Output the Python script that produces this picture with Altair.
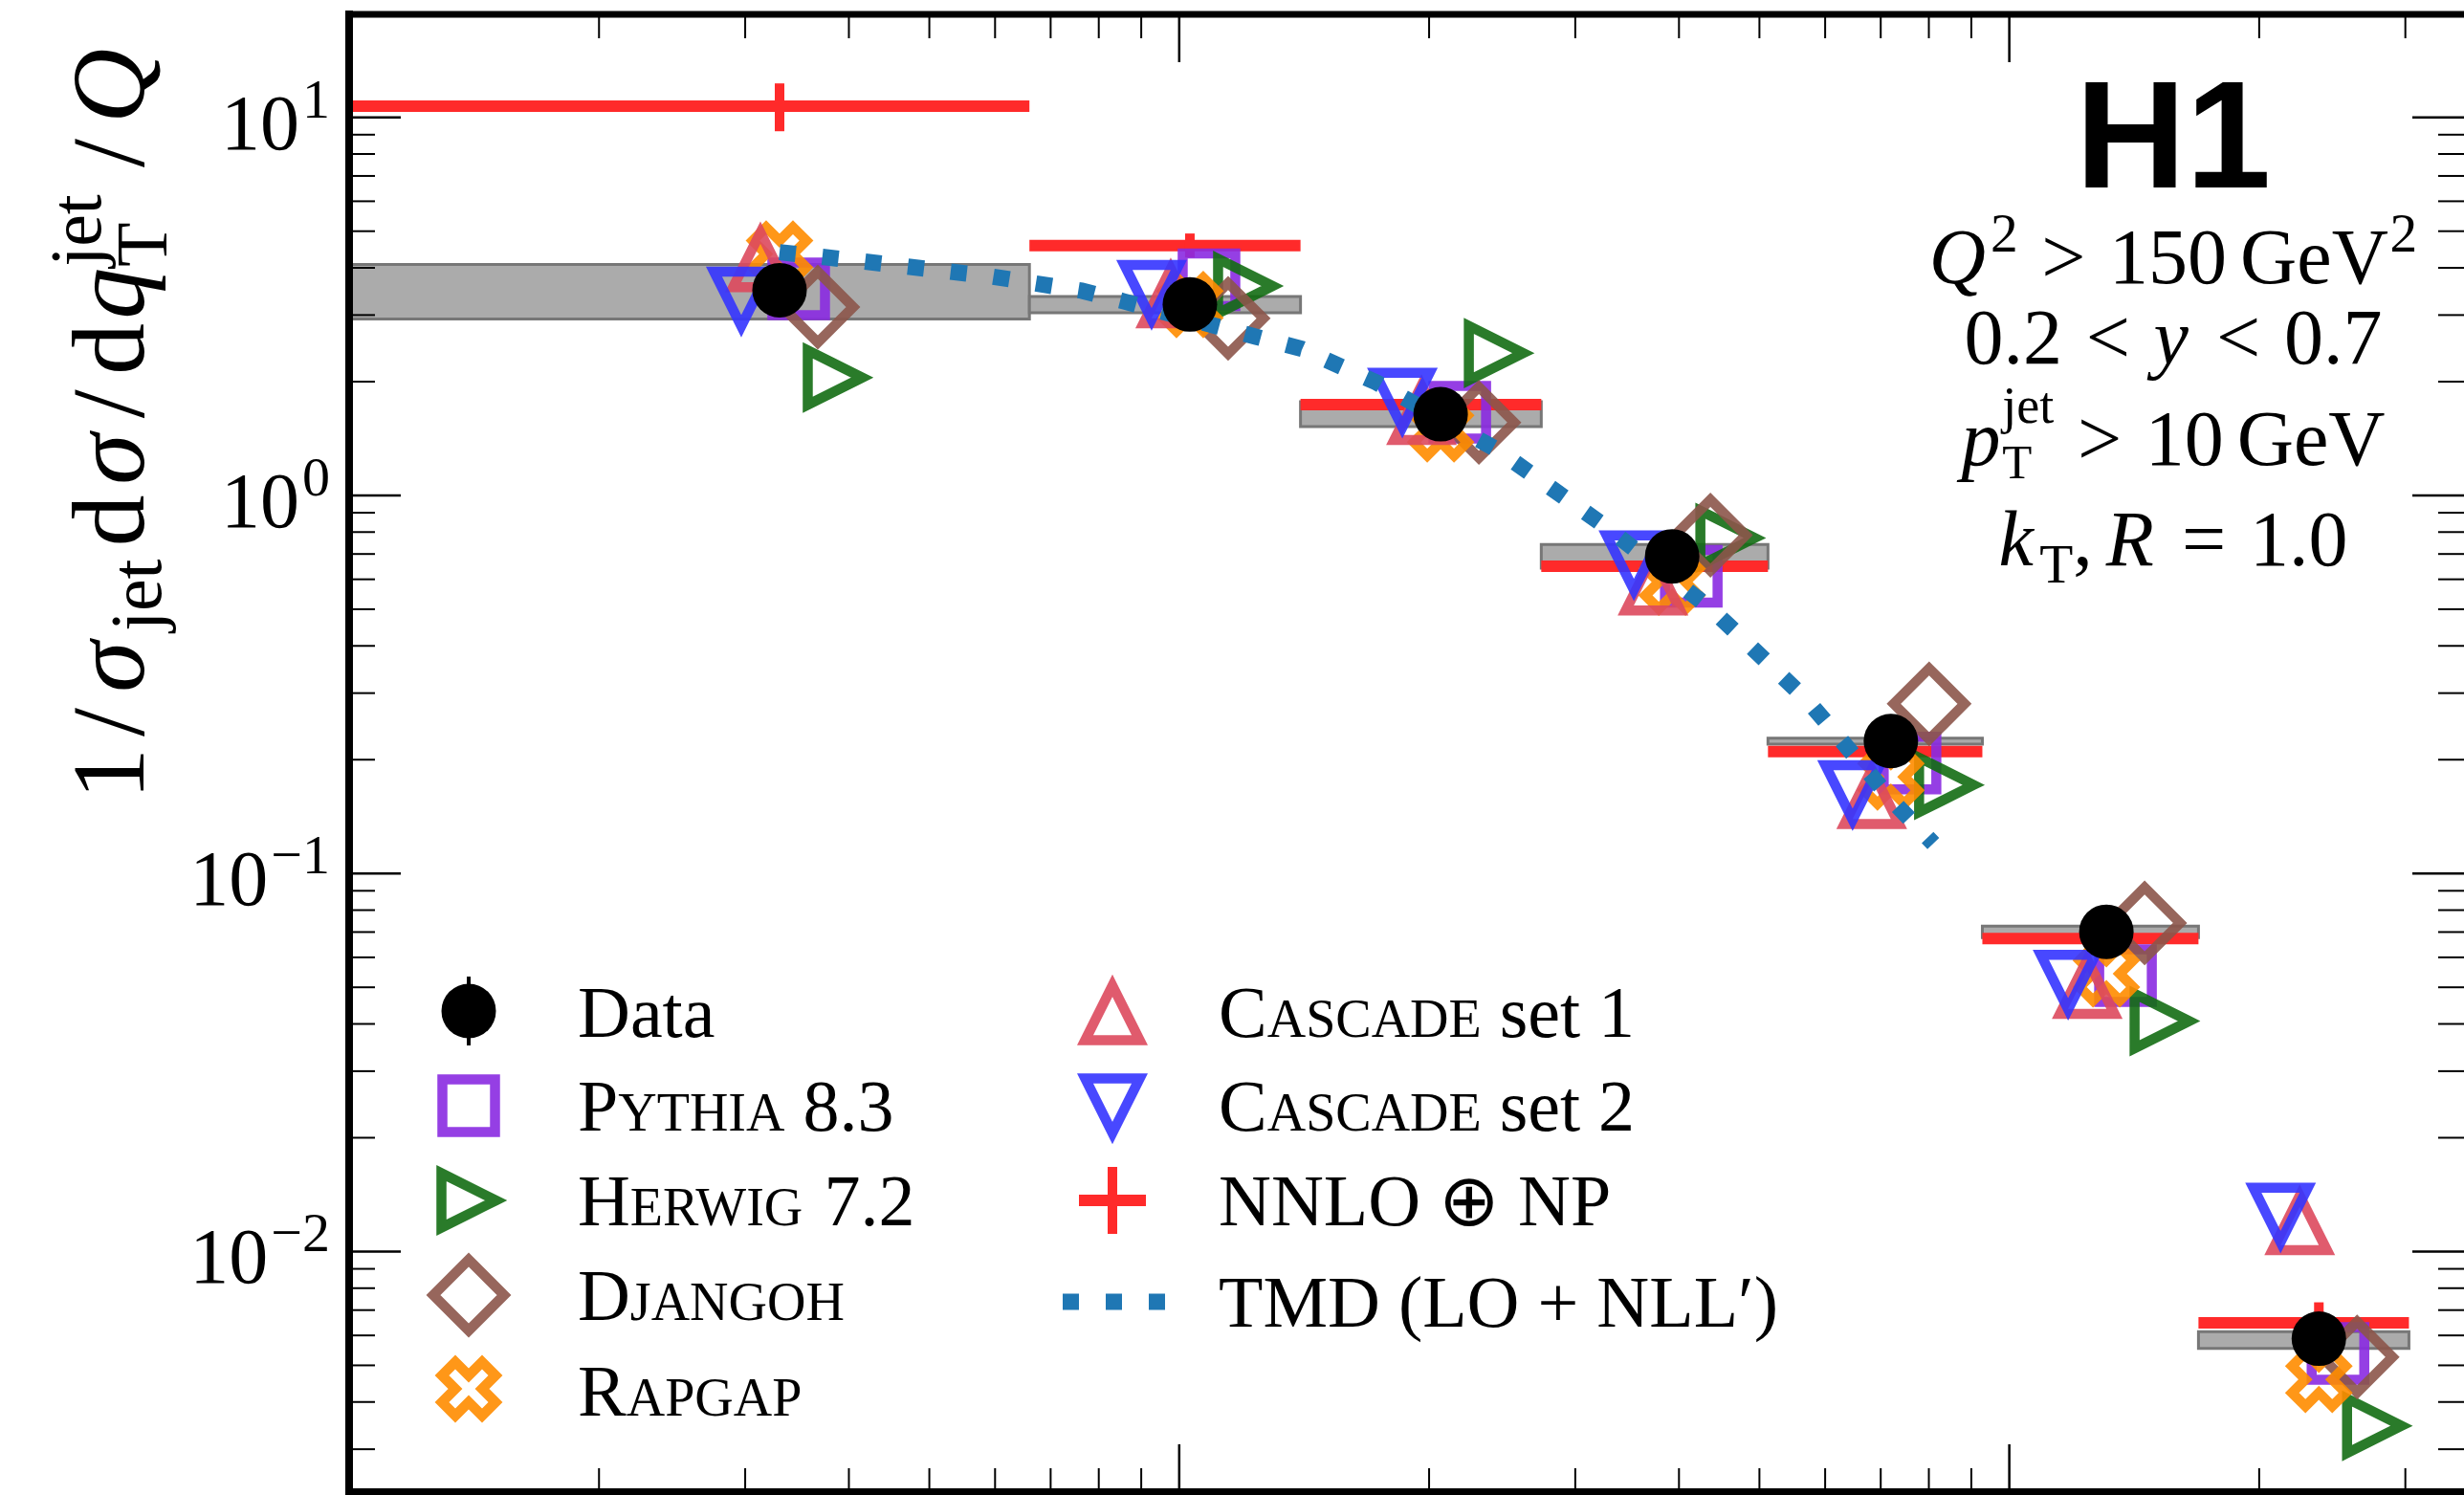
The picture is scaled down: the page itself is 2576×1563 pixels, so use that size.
import altair as alt
import pandas as pd

# ---------------------------------------------------------------------------
# q_T/Q binning and normalised cross sections 1/sigma_jet dsigma/dq_T^jet/Q
# ---------------------------------------------------------------------------
bin_edges = [0.0, 0.066, 0.14, 0.273, 0.512, 0.928, 1.69, 3.03]

data_vals = [3.49, 3.20, 1.64, 0.690, 0.224, 0.0701, 0.00588]
data_unc_hi = [4.08, 3.36, 1.77, 0.742, 0.228, 0.0726, 0.00614]
data_unc_lo = [2.93, 3.04, 1.52, 0.642, 0.220, 0.0677, 0.00554]

nnlo_vals = [10.7, 4.58, 1.74, 0.650, 0.210, 0.0673, 0.00648]
nnlo_up = [12.3, 4.93, 1.77, 0.662, 0.214, 0.0686, 0.00734]
nnlo_down = [9.19, 4.26, 1.71, 0.638, 0.206, 0.0660, 0.00572]

pythia_vals = [3.52, 3.72, 1.66, 0.611, 0.196, 0.0537, 0.00538]
herwig_vals = [2.05, 3.58, 2.38, 0.772, 0.1715, 0.0407, 0.00346]
djangoh_vals = [3.15, 2.94, 1.56, 0.785, 0.281, 0.0740, 0.00526]
rapgap_vals = [4.35, 3.20, 1.50, 0.590, 0.180, 0.0543, 0.00459]
cascade1_vals = [4.20, 3.37, 1.655, 0.586, 0.1595, 0.0502, 0.0119]
cascade2_vals = [3.31, 3.45, 1.787, 0.664, 0.1637, 0.0516, 0.0125]

tmd_q = [0.033, 0.0412, 0.0597, 0.0763, 0.0858, 0.1236, 0.1406, 0.1728,
         0.2416, 0.3264, 0.4388, 0.572, 0.7264, 0.81]
tmd_vals = [4.40, 4.17, 3.79, 3.48, 3.26, 2.63, 2.44, 1.99,
            1.32, 0.827, 0.498, 0.286, 0.154, 0.12]

# axis ticks
y_major = [0.01, 0.1, 1, 10]
y_exponents = ["\u22122", "\u22121", "0", "1"]
x_major = [0.01, 0.1, 1]

X_MIN, X_MAX = 0.01, 3.53
Y_MIN, Y_MAX = 0.00231, 18.73

y_minor = [m * 10.0 ** e for e in (-3, -2, -1, 0, 1) for m in range(2, 10)]
y_minor = [v for v in y_minor if Y_MIN < v < Y_MAX]
x_minor = [m * 10.0 ** e for e in (-2, -1, 0) for m in range(2, 10)]
x_minor = [v for v in x_minor if X_MIN < v < X_MAX]

# ---------------------------------------------------------------------------
# geometry of the drawing (pixels)
# ---------------------------------------------------------------------------
LEFT, TOP = 365, 15
W, H = 2576 - LEFT, 1545
SERIF = "Liberation Serif"
SANS_BOLD = "Liberation Sans Narrow, Liberation Sans"

xs = alt.Scale(type="log", domain=[X_MIN, X_MAX], nice=False)
ys = alt.Scale(type="log", domain=[Y_MIN, Y_MAX], nice=False)


def X(f):
    return alt.X(f"{f}:Q", scale=xs, axis=None)


def Y(f):
    return alt.Y(f"{f}:Q", scale=ys, axis=None)


lo_edges = [max(a, X_MIN) for a in bin_edges[:-1]]
hi_edges = bin_edges[1:]
centers = [(a + b) / 2 for a, b in zip(bin_edges[:-1], bin_edges[1:])]

bins = pd.DataFrame({
    "lo": lo_edges, "hi": hi_edges, "q": centers,
    "data": data_vals, "unc_lo": data_unc_lo, "unc_hi": data_unc_hi,
    "nnlo": nnlo_vals, "nnlo_up": nnlo_up, "nnlo_down": nnlo_down,
    "pythia": pythia_vals, "herwig": herwig_vals, "djangoh": djangoh_vals,
    "rapgap": rapgap_vals, "cascade1": cascade1_vals, "cascade2": cascade2_vals,
})
tmd = pd.DataFrame({"q": tmd_q, "v": tmd_vals})
ONE = pd.DataFrame({"k": [0]})

# marker outlines (unit box -1..1)
SQUARE = "M-1,-1L1,-1L1,1L-1,1Z"
TRI_UP = "M0,-1L1,1L-1,1Z"
TRI_DOWN = "M0,1L1,-1L-1,-1Z"
TRI_RIGHT = "M1,0L-1,1L-1,-1Z"
DIAMOND = "M0,-1L1,0L0,1L-1,0Z"
XSHAPE = ("M-0.5,-1L0,-0.5L0.5,-1L1,-0.5L0.5,0L1,0.5L0.5,1L0,0.5"
          "L-0.5,1L-1,0.5L-0.5,0L-1,-0.5Z")

MC = [
    # column, shape, size, colour, horizontal shift
    ("pythia", SQUARE, 3025, "#8a2be2", 20),
    ("herwig", TRI_RIGHT, 3249, "#136d13", 58),
    ("djangoh", DIAMOND, 5476, "#8c564b", 40),
    ("rapgap", XSHAPE, 3136, "#ff8c00", 0),
    ("cascade1", TRI_UP, 3249, "#dd4a5e", -20),
    ("cascade2", TRI_DOWN, 3249, "#3535ff", -40),
]
MC_STROKE = 10.5
MC_OPACITY = 0.9
RED = "#ff2a2a"
TMD_BLUE = "#1f77b4"
TMD_DASH = [17, 28]

layers = []

# ---- data uncertainty bands --------------------------------------------
layers.append(alt.Chart(bins).mark_rect(
    fill="#ababab", stroke="#777777", strokeWidth=3).encode(
    x=X("lo"), x2=alt.X2("hi"), y=Y("unc_lo"), y2=alt.Y2("unc_hi")))

# ---- NNLO (+) NP -----------------------------------------------------------
layers.append(alt.Chart(bins).mark_rule(color=RED, strokeWidth=12).encode(
    x=X("lo"), x2=alt.X2("hi"), y=Y("nnlo")))
layers.append(alt.Chart(bins).mark_rule(color=RED, strokeWidth=10).encode(
    x=X("q"), y=Y("nnlo_down"), y2=alt.Y2("nnlo_up")))

# ---- MC generators ---------------------------------------------------------
for col, shape, size, colour, shift in MC:
    layers.append(alt.Chart(bins).mark_point(
        shape=shape, size=size, filled=False, color=colour,
        strokeWidth=MC_STROKE, opacity=MC_OPACITY, xOffset=shift).encode(
        x=X("q"), y=Y(col)))

# ---- TMD prediction --------------------------------------------------------
layers.append(alt.Chart(tmd).mark_line(
    color=TMD_BLUE, strokeWidth=17, strokeDash=TMD_DASH, strokeCap="butt").encode(
    x=X("q"), y=Y("v")))

# ---- data points -----------------------------------------------------------
layers.append(alt.Chart(bins).mark_point(
    shape="circle", size=3249, filled=True, color="black", opacity=1).encode(
    x=X("q"), y=Y("data")))

# ---- frame and inward ticks ------------------------------------------------
ymaj = pd.DataFrame({"v": y_major})
ymin = pd.DataFrame({"v": y_minor})
xmaj = pd.DataFrame({"v": x_major})
xmin = pd.DataFrame({"v": x_minor})
MAJ, MIN = 54, 27
for df, ln, sw in ((ymaj, MAJ, 2.5), (ymin, MIN, 2)):
    layers.append(alt.Chart(df).mark_rule(color="black", strokeWidth=sw).encode(
        y=Y("v"), x=alt.value(0), x2=alt.value(ln)))
    layers.append(alt.Chart(df).mark_rule(color="black", strokeWidth=sw).encode(
        y=Y("v"), x=alt.value(W - ln), x2=alt.value(W)))
for df, ln, sw in ((xmaj, 50, 2.5), (xmin, 25, 2)):
    layers.append(alt.Chart(df).mark_rule(color="black", strokeWidth=sw).encode(
        x=X("v"), y=alt.value(0), y2=alt.value(ln)))
    layers.append(alt.Chart(df).mark_rule(color="black", strokeWidth=sw).encode(
        x=X("v"), y=alt.value(H - ln), y2=alt.value(H)))

layers.append(alt.Chart(ONE).mark_rule(color="black", strokeWidth=8).encode(
    x=alt.value(0), y=alt.value(-4), y2=alt.value(H + 4)))
layers.append(alt.Chart(ONE).mark_rule(color="black", strokeWidth=7).encode(
    x=alt.value(0), x2=alt.value(W), y=alt.value(0)))
layers.append(alt.Chart(ONE).mark_rule(color="black", strokeWidth=8).encode(
    x=alt.value(0), x2=alt.value(W), y=alt.value(H)))

# ---- text metrics (Times-compatible advance widths, 1/1000 em) --------------
TIMES = {
    **{c: 500 for c in "0123456789"}, " ": 250, ".": 250, ",": 250,
    "(": 333, ")": 333, "+": 564, "\u2212": 564, "\u2295": 838, "\u2032": 275,
    "<": 564, ">": 564, "=": 564,
    "A": 722, "B": 667, "C": 667, "D": 722, "E": 611, "F": 556, "G": 722,
    "H": 722, "I": 333, "J": 389, "K": 722, "L": 611, "M": 889, "N": 722,
    "O": 722, "P": 556, "Q": 722, "R": 667, "S": 556, "T": 611, "U": 722,
    "V": 722, "W": 944, "X": 722, "Y": 722, "Z": 611,
    "a": 444, "b": 500, "c": 444, "d": 500, "e": 444, "f": 333, "g": 500,
    "h": 500, "i": 278, "j": 278, "k": 500, "l": 278, "m": 778, "n": 500,
    "o": 500, "p": 500, "q": 500, "r": 333, "s": 389, "t": 278, "u": 500,
    "v": 500, "w": 722, "x": 500, "y": 500, "z": 444,
}


def tw(s, size):
    return sum(TIMES.get(c, 550) for c in s) * size / 1000.0


# ---- y tick labels 10^n ----------------------------------------------------
EXP_RIGHT = 345 - LEFT
for val, ex in zip(y_major, y_exponents):
    row = pd.DataFrame({"v": [val]})
    ew = tw(ex, 58)
    layers.append(alt.Chart(row).mark_text(
        text=ex, font=SERIF, fontSize=58, align="right", baseline="alphabetic",
        color="black").encode(x=alt.value(EXP_RIGHT), y=Y("v")))
    layers.append(alt.Chart(row).mark_text(
        text="10", font=SERIF, fontSize=82, align="right", baseline="alphabetic",
        dy=33, color="black").encode(x=alt.value(EXP_RIGHT - ew - 3), y=Y("v")))


# ---- generic text helpers ----------------------------------------------------
def txt(text, x, y, size, italic=False, weight="normal", align="center",
        angle=0, font=SERIF):
    return alt.Chart(ONE).mark_text(
        text=text, font=font, fontSize=size, align=align, baseline="alphabetic",
        fontStyle="italic" if italic else "normal", fontWeight=weight,
        angle=angle, color="black").encode(
        x=alt.value(x - LEFT), y=alt.value(y - TOP))


def rich_v(pieces, start, base, F):
    """Bottom-to-top run of (text, advance_em, rel_size, italic, shift_em, align)."""
    out = []
    pos = start
    for text, adv, rel, it, sh, al in pieces:
        a = adv * F
        c = pos - a / 2 if al == "center" else pos
        out.append(txt(text, base + sh * F, c, F * rel, italic=it,
                       align=al, angle=270))
        pos -= a
    return out


def rich_h(pieces, cx, base, F):
    """Centred run of dict pieces: t, rel, it, sh (em), pre/post (em), adv."""
    items = []
    x = 0.0
    for p in pieces:
        rel = p.get("rel", 1)
        x += p.get("pre", 0) * F
        items.append((p["t"], x, F * rel, p.get("it", False), p.get("sh", 0)))
        if p.get("adv", True):
            x += tw(p["t"], F * rel) + p.get("post", 0) * F
    x0 = cx - x / 2
    return [txt(t, x0 + px, base - sh * F, size, italic=it, align="left")
            for t, px, size, it, sh in items]


# y axis title: 1/sigma_jet dsigma/dq_T^jet/Q (reads bottom to top)
title_pieces = [
    ("1", .50, 1, False, 0, "center"),
    ("/", .50, 1, False, 0, "center"),
    ("\u03c3", .57, 1, True, 0, "center"),
    ("jet", .82, .7, False, .17, "center"),
    ("d", .62, 1, False, 0, "center"),
    ("\u03c3", .57, 1, True, 0, "center"),
    ("/", .50, 1, False, 0, "center"),
    ("d", .56, 1, False, 0, "center"),
    ("q", .52, 1, True, 0, "center"),
    ("T", 0.0, .7, False, .22, "left"),
    ("jet", .85, .7, False, -.42, "left"),
    ("/", .50, 1, False, 0, "center"),
    ("Q", .80, 1, True, 0, "center"),
]
layers += rich_v(title_pieces, 836, 150, 108)

# ---- H1 label and phase space --------------------------------------------
CX = 2272
layers.append(txt("H1", CX, 196, 160, weight="bold", font=SANS_BOLD))
F = 82
REL = 0.3  # space around relations
layers += rich_h([
    dict(t="Q", it=True, post=.06),
    dict(t="2", rel=.7, sh=.40),
    dict(t=">", pre=REL, post=REL),
    dict(t="150", post=.17),
    dict(t="GeV", post=.02),
    dict(t="2", rel=.7, sh=.40),
], CX, 296, F)
layers += rich_h([
    dict(t="0.2"),
    dict(t="<", pre=REL, post=REL),
    dict(t="y", it=True),
    dict(t="<", pre=REL, post=REL),
    dict(t="0.7"),
], CX, 380, F)
layers += rich_h([
    dict(t="p", it=True, post=.02),
    dict(t="T", rel=.62, sh=-.17, adv=False),
    dict(t="jet", rel=.66, sh=.54),
    dict(t=">", pre=REL, post=REL),
    dict(t="10", post=.17),
    dict(t="GeV"),
], CX, 486, F)
layers += rich_h([
    dict(t="k", it=True, post=.02),
    dict(t="T", rel=.7, sh=-.22),
    dict(t=",", post=.17),
    dict(t="R", it=True),
    dict(t="=", pre=REL, post=REL),
    dict(t="1.0"),
], CX, 591, F)

# ---- legend ------------------------------------------------------------------
LF, SC = 76, 56
COL1_SYM, COL1_TXT = 490, 604
COL2_SYM, COL2_TXT = 1163, 1274
ROWS = [1057, 1156, 1255, 1354, 1452]
BASES = [1084, 1182, 1281, 1380, 1480]


def label(parts, x0, base):
    out = []
    x = x0
    for s, size in parts:
        lead = len(s) - len(s.lstrip(" "))
        x += tw(" " * lead, size)
        s = s.lstrip(" ")
        out.append(txt(s, x, base, size, align="left"))
        x += tw(s, size)
    return out


def sym(shape, size, colour, x, y, filled=False):
    if filled:
        mk = alt.Chart(ONE).mark_point(shape=shape, size=size, filled=True,
                                       color=colour, opacity=1)
    else:
        mk = alt.Chart(ONE).mark_point(shape=shape, size=size, filled=False,
                                       color=colour, strokeWidth=MC_STROKE,
                                       opacity=MC_OPACITY)
    return mk.encode(x=alt.value(x - LEFT), y=alt.value(y - TOP))


mc_style = {c: (s, z, k) for c, s, z, k, _ in MC}

# Data
layers.append(alt.Chart(ONE).mark_rule(color="black", strokeWidth=4).encode(
    x=alt.value(COL1_SYM - LEFT), y=alt.value(ROWS[0] - 36 - TOP),
    y2=alt.value(ROWS[0] + 36 - TOP)))
layers.append(sym("circle", 3249, "black", COL1_SYM, ROWS[0], filled=True))
layers += label([("Data", LF)], COL1_TXT, BASES[0])

col1 = [("pythia", [("P", LF), ("YTHIA", SC), (" 8.3", LF)]),
        ("herwig", [("H", LF), ("ERWIG", SC), (" 7.2", LF)]),
        ("djangoh", [("D", LF), ("JANGOH", SC)]),
        ("rapgap", [("R", LF), ("APGAP", SC)])]
for i, (c, parts) in enumerate(col1, start=1):
    s, z, k = mc_style[c]
    layers.append(sym(s, z, k, COL1_SYM, ROWS[i]))
    layers += label(parts, COL1_TXT, BASES[i])

col2 = [("cascade1", [("C", LF), ("ASCADE", SC), (" set 1", LF)]),
        ("cascade2", [("C", LF), ("ASCADE", SC), (" set 2", LF)])]
for i, (c, parts) in enumerate(col2):
    s, z, k = mc_style[c]
    layers.append(sym(s, z, k, COL2_SYM, ROWS[i] + (2 if i == 0 else 0)))
    layers += label(parts, COL2_TXT, BASES[i])

# NNLO (+) NP
layers.append(alt.Chart(ONE).mark_rule(color=RED, strokeWidth=12).encode(
    x=alt.value(COL2_SYM - 35 - LEFT), x2=alt.value(COL2_SYM + 35 - LEFT),
    y=alt.value(ROWS[2] - TOP)))
layers.append(alt.Chart(ONE).mark_rule(color=RED, strokeWidth=10).encode(
    x=alt.value(COL2_SYM - LEFT), y=alt.value(ROWS[2] - 35 - TOP),
    y2=alt.value(ROWS[2] + 35 - TOP)))
layers += label([("NNLO \u2295 NP", LF)], COL2_TXT, BASES[2])

# TMD
layers.append(alt.Chart(ONE).mark_rule(
    color=TMD_BLUE, strokeWidth=17, strokeDash=TMD_DASH, strokeCap="butt").encode(
    x=alt.value(COL2_SYM - 52 - LEFT), x2=alt.value(COL2_SYM + 55 - LEFT),
    y=alt.value(1361 - TOP)))
layers += label([("TMD (LO + NLL\u2032)", LF)], COL2_TXT, 1387)

chart = alt.layer(*layers).properties(
    width=W, height=H,
    autosize=alt.AutoSizeParams(type="none"),
    padding={"left": LEFT, "top": TOP, "right": 0, "bottom": 1563 - TOP - H},
    background="white",
).configure_view(stroke=None)

chart.save("out.html", embed_options={"renderer": "svg", "actions": False})
